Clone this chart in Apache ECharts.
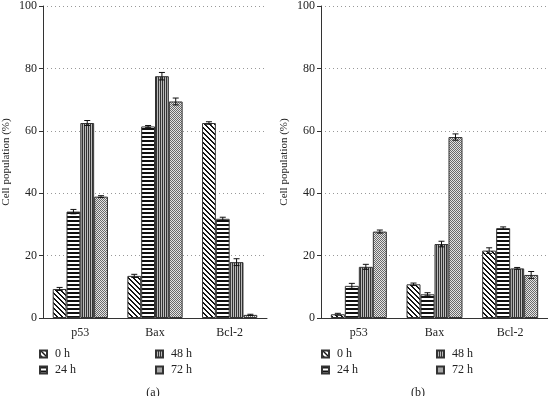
<!DOCTYPE html>
<html>
<head>
<meta charset="utf-8">
<script src="https://cdn.jsdelivr.net/npm/echarts@6/dist/echarts.min.js"></script>
<style>
  html, body { margin: 0; padding: 0; background: #fff; }
  #main { width: 548px; height: 396px; }
</style>
</head>
<body>
<div id="main"></div>
<script>
var categories = ['p53', 'Bax', 'Bcl-2'];
var seriesNames = ['0 h', '24 h', '48 h', '72 h'];
var yTicks = [0, 20, 40, 60, 80, 100];

// panel (a)
var a0h = [9.3, 13.5, 62.5];
var a24h = [34.1, 61.4, 31.8];
var a48h = [62.5, 77.5, 17.9];
var a72h = [38.9, 69.4, 1.0];
var aErr0h = [0.5, 0.5, 0.4];
var aErr24h = [0.7, 0.3, 0.5];
var aErr48h = [0.8, 1.2, 1.1];
var aErr72h = [0.3, 1.1, 0.2];

// panel (b)
var b0h = [1.2, 10.8, 21.6];
var b24h = [10.3, 7.6, 28.8];
var b48h = [16.4, 23.7, 15.9];
var b72h = [27.7, 58.0, 13.8];
var bErr0h = [0.3, 0.4, 0.9];
var bErr24h = [0.8, 0.5, 0.4];
var bErr48h = [0.8, 0.9, 0.3];
var bErr72h = [0.5, 1.0, 1.1];

var FONT = "'Liberation Serif', 'DejaVu Serif', serif";
var CAT_GAP = 0.26;

function makePattern(w, h, draw) {
    var c = document.createElement('canvas');
    c.width = w; c.height = h;
    var ctx = c.getContext('2d');
    draw(ctx);
    return { image: c, repeat: 'repeat' };
}

var patterns = [
    // 0 h: diagonal hatch
    makePattern(5, 5, function (ctx) {
        ctx.fillStyle = '#fff'; ctx.fillRect(0, 0, 5, 5);
        ctx.fillStyle = '#151515';
        for (var x = 0; x < 5; x++) for (var y = 0; y < 5; y++) {
            if ((x - y + 10) % 5 < 2) ctx.fillRect(x, y, 1, 1);
        }
    }),
    // 24 h: horizontal stripes
    makePattern(1, 4, function (ctx) {
        ctx.fillStyle = '#fff'; ctx.fillRect(0, 0, 1, 4);
        ctx.fillStyle = '#111'; ctx.fillRect(0, 0, 1, 2);
    }),
    // 48 h: vertical stripes
    makePattern(2, 1, function (ctx) {
        ctx.fillStyle = '#333'; ctx.fillRect(0, 0, 1, 1);
        ctx.fillStyle = '#bbb'; ctx.fillRect(1, 0, 1, 1);
    }),
    // 72 h: fine checker
    makePattern(2, 2, function (ctx) {
        ctx.fillStyle = '#e4e4e4'; ctx.fillRect(0, 0, 2, 2);
        ctx.fillStyle = '#6a6a6a'; ctx.fillRect(0, 0, 1, 1); ctx.fillRect(1, 1, 1, 1);
    })
];

function errorRender(slot) {
    return function (params, api) {
        var cat = api.value(0), val = api.value(1), err = api.value(2);
        var band = api.size([1, 0])[0];
        var bw = band * (1 - CAT_GAP) / 4;
        var cx = api.coord([cat, val])[0] + (slot - 1.5) * bw;
        var top = api.coord([cat, val + err])[1];
        var bot = api.coord([cat, val - err])[1];
        var cap = 3;
        var st = { stroke: '#111', lineWidth: 1 };
        return {
            type: 'group',
            children: [
                { type: 'line', shape: { x1: cx, y1: top, x2: cx, y2: bot }, style: st },
                { type: 'line', shape: { x1: cx - cap, y1: top, x2: cx + cap, y2: top }, style: st },
                { type: 'line', shape: { x1: cx - cap, y1: bot, x2: cx + cap, y2: bot }, style: st }
            ]
        };
    };
}

function panel(idx, values, errs) {
    var series = [];
    for (var i = 0; i < 4; i++) {
        series.push({
            name: seriesNames[i],
            type: 'bar',
            xAxisIndex: idx, yAxisIndex: idx,
            data: values[i],
            barGap: '0%',
            barCategoryGap: (CAT_GAP * 100) + '%',
            itemStyle: { color: patterns[i], borderColor: '#333', borderWidth: 1 },
            emphasis: { disabled: true }
        });
    }
    for (var j = 0; j < 4; j++) {
        var d = values[j].map(function (v, k) { return [k, v, errs[j][k]]; });
        series.push({
            type: 'custom',
            xAxisIndex: idx, yAxisIndex: idx,
            renderItem: errorRender(j),
            data: d,
            z: 5,
            silent: true
        });
    }
    return series;
}

var gridLeft = [41, 321];
var gridWidth = [226, 227];

var xAxes = [], yAxes = [], grids = [], legends = [], titles = [];
for (var g = 0; g < 2; g++) {
    grids.push({ left: gridLeft[g], width: gridWidth[g], top: 5, height: 313 });
    xAxes.push({
        type: 'category', gridIndex: g, data: categories,
        axisLine: { lineStyle: { color: '#333', width: 1 } },
        axisTick: { length: 4, lineStyle: { color: '#333' } },
        axisLabel: { color: '#222', fontFamily: FONT, fontSize: 12, margin: 9 }
    });
    yAxes.push({
        type: 'value', gridIndex: g, min: yTicks[0], max: yTicks[yTicks.length - 1], interval: 20,
        name: 'Cell population (%)', nameLocation: 'middle', nameGap: 31,
        nameTextStyle: { color: '#222', fontFamily: FONT, fontSize: 11 },
        axisLine: { show: true, lineStyle: { color: '#333', width: 1 } },
        axisTick: { show: true, length: 4, lineStyle: { color: '#333' } },
        axisLabel: { color: '#222', fontFamily: FONT, fontSize: 12, margin: 6 },
        splitLine: { show: true, lineStyle: { color: '#999', type: [1, 3], width: 1 } }
    });
    var legLeft = g === 0 ? [39, 155] : [321, 436];
    for (var L = 0; L < 2; L++) {
        legends.push({
            data: L === 0 ? ['0 h', '24 h'] : ['48 h', '72 h'],
            orient: 'vertical', left: legLeft[L], top: 348,
            padding: 0, itemWidth: 7, itemHeight: 7, itemGap: 4, icon: 'rect',
            textStyle: { color: '#222', fontFamily: FONT, fontSize: 12, padding: [0, 0, 0, 3] },
            selectedMode: false
        });
    }
}
titles.push({ text: '(a)', left: 148, top: 382, textAlign: 'center',
    textStyle: { color: '#222', fontFamily: FONT, fontSize: 12, fontWeight: 'normal' } });
titles.push({ text: '(b)', left: 413, top: 382, textAlign: 'center',
    textStyle: { color: '#222', fontFamily: FONT, fontSize: 12, fontWeight: 'normal' } });

var series = panel(0, [a0h, a24h, a48h, a72h], [aErr0h, aErr24h, aErr48h, aErr72h])
    .concat(panel(1, [b0h, b24h, b48h, b72h], [bErr0h, bErr24h, bErr48h, bErr72h]));

var myChart = echarts.init(document.getElementById('main'));
myChart.setOption({
    animation: false,
    backgroundColor: '#fff',
    title: titles,
    legend: legends,
    grid: grids,
    xAxis: xAxes,
    yAxis: yAxes,
    series: series
});
</script>
</body>
</html>
